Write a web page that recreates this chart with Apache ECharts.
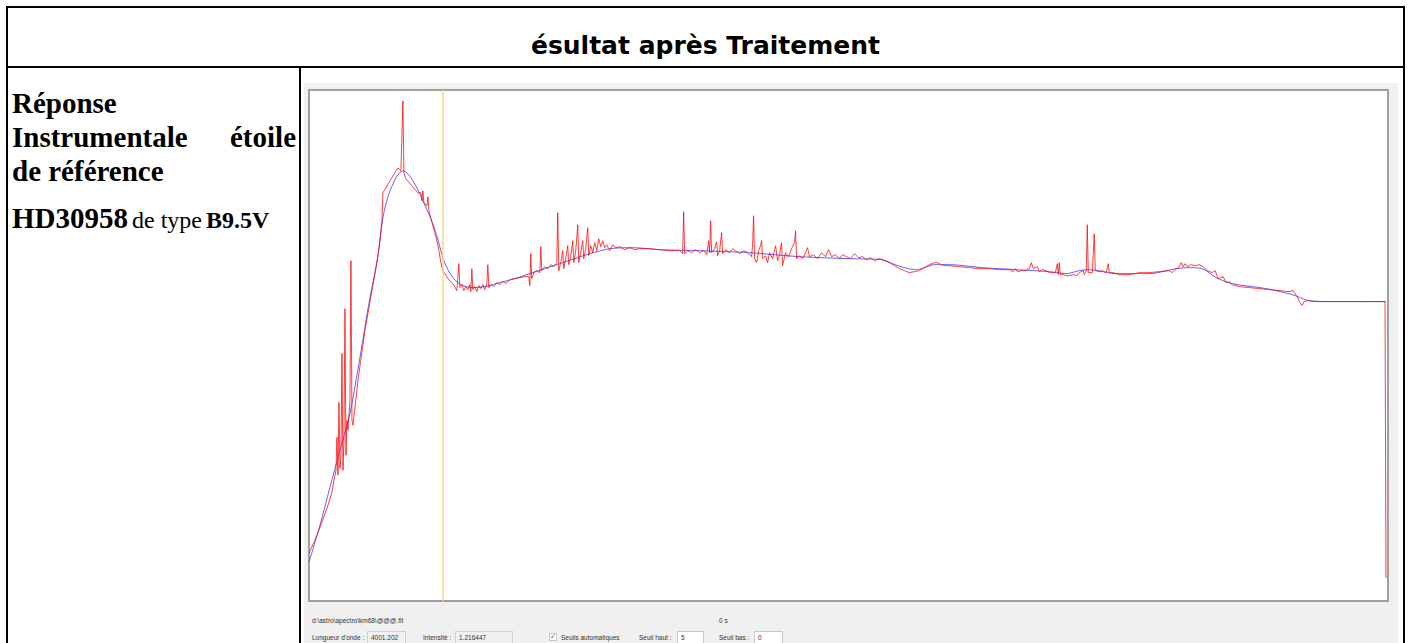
<!DOCTYPE html>
<html>
<head>
<meta charset="utf-8">
<script src="https://cdn.jsdelivr.net/npm/echarts@6/dist/echarts.min.js"></script>
<style>
  html, body { margin: 0; padding: 0; background: #fff; }
  body { width: 1411px; height: 643px; overflow: hidden; position: relative; }
  .abs { position: absolute; }
  #frame { left: 6px; top: 6px; width: 1399px; height: 660px; border: 2px solid #000; box-sizing: border-box; }
  #hline { left: 6px; top: 66px; width: 1399px; height: 2px; background: #000; }
  #vline { left: 299px; top: 66px; width: 2px; height: 600px; background: #000; }
  #title { left: 8px; top: 31px; width: 1395px; height: 30px; line-height: 30px; text-align: center;
           font-family: "Comic Sans MS", "DejaVu Sans", sans-serif; font-weight: bold; font-size: 25px; color: #000; }
  #desc { left: 12px; top: 86px; width: 284px; font-family: "Liberation Serif", "Times New Roman", serif; color: #000; }
  #desc .l { font-size: 29px; font-weight: bold; line-height: 34px; height: 34px; white-space: nowrap; }
  #desc .j { display: flex; justify-content: space-between; }
  #desc .hd { margin-top: 14px; white-space: nowrap; }
  #desc .hd b.big { font-size: 29px; }
  #desc .hd span { font-size: 24px; }
  #desc .hd b.sm { font-size: 24px; }
  #shot { left: 304px; top: 83px; width: 1094px; height: 560px; background: #f0f0f0; }
  .st { position: absolute; font-family: "Liberation Sans", sans-serif; font-size: 6.5px; color: #333; white-space: nowrap; }
  .box { position: absolute; height: 14px; box-sizing: border-box; font-family: "Liberation Sans", sans-serif;
         font-size: 6.5px; color: #333; line-height: 12px; padding-left: 3px; }
  .ro { background: #f0f0f0; border: 1px solid #d0d0d0; }
  .wr { background: #fff; border: 1px solid #c8c8c8; }
  #chart { left: 0; top: 0; width: 1411px; height: 643px; }
</style>
</head>
<body>
<div id="frame" class="abs"></div>
<div id="hline" class="abs"></div>
<div id="vline" class="abs"></div>
<div id="title" class="abs">ésultat après Traitement</div>
<div id="desc" class="abs">
  <div class="l">Réponse</div>
  <div class="l j"><span>Instrumentale</span><span>étoile</span></div>
  <div class="l">de référence</div>
  <div class="hd"><b class="big">HD30958</b> <span>de type</span> <b class="sm">B9.5V</b></div>
</div>
<div id="shot" class="abs"></div>
<div class="st" style="left:312px;top:617px;">d:\astro\apectro\km68\@@@.fit</div>
<div class="st" style="left:719px;top:617px;">0 s</div>
<div class="st" style="left:312px;top:634px;">Longueur d'onde :</div>
<div class="box ro" style="left:367px;top:631px;width:39px;">4001.202</div>
<div class="st" style="left:423px;top:634px;">Intensité :</div>
<div class="box ro" style="left:455px;top:631px;width:58px;">1.216447</div>
<div class="box wr" style="left:549px;top:633px;width:8px;height:8px;padding:0;line-height:6px;font-size:7px;text-align:center;color:#4060a0;">✓</div>
<div class="st" style="left:561px;top:634px;">Seuils automatiques</div>
<div class="st" style="left:639px;top:634px;">Seuil haut :</div>
<div class="box wr" style="left:677px;top:631px;width:27px;">5</div>
<div class="st" style="left:719px;top:634px;">Seuil bas :</div>
<div class="box wr" style="left:754px;top:631px;width:29px;">0</div>
<div id="chart" class="abs"></div>
<script>
// wavelength (Å), intensity (relative)
const blueFit = [
  [3600, 0.078], [3633, 0.152], [3663, 0.228], [3693, 0.302], [3723, 0.376], [3753, 0.488],
  [3783, 0.608], [3804, 0.678], [3822, 0.768], [3837, 0.810], [3852, 0.836], [3867, 0.854],
  [3882, 0.862], [3897, 0.856], [3912, 0.842], [3927, 0.824], [3942, 0.802], [3957, 0.780],
  [3972, 0.756], [3987, 0.724], [4002, 0.688], [4017, 0.664], [4032, 0.648], [4047, 0.638],
  [4062, 0.632], [4092, 0.628], [4128, 0.630], [4173, 0.638], [4218, 0.646], [4263, 0.656],
  [4308, 0.666], [4353, 0.676], [4398, 0.686], [4443, 0.696], [4503, 0.706], [4572, 0.708],
  [4653, 0.704], [4773, 0.702], [4923, 0.698], [5073, 0.690], [5223, 0.686], [5322, 0.684],
  [5352, 0.676], [5388, 0.668], [5424, 0.664], [5448, 0.668], [5478, 0.674], [5523, 0.674],
  [5622, 0.668], [5724, 0.664], [5823, 0.660], [5874, 0.656], [5913, 0.662], [5943, 0.664],
  [6024, 0.656], [6123, 0.656], [6204, 0.666], [6243, 0.668], [6282, 0.666], [6324, 0.648],
  [6372, 0.636], [6474, 0.626], [6552, 0.614], [6603, 0.602], [6672, 0.600], [6834, 0.600]
];

const redSpectrum = [
  [3600, 0.096], [3618, 0.122], [3639, 0.158], [3657, 0.192], [3669, 0.218], [3675, 0.242],
  [3681, 0.262], [3684, 0.328], [3687, 0.252], [3690, 0.398], [3693, 0.266], [3696, 0.292],
  [3699, 0.496], [3702, 0.262], [3705, 0.322], [3708, 0.586], [3711, 0.292], [3714, 0.362],
  [3717, 0.342], [3723, 0.402], [3726, 0.682], [3729, 0.362], [3732, 0.352], [3747, 0.442],
  [3768, 0.542], [3789, 0.622], [3807, 0.692], [3813, 0.722], [3819, 0.762], [3822, 0.818],
  [3843, 0.842], [3867, 0.868], [3876, 0.862], [3879, 0.858], [3882, 1.002], [3885, 0.858],
  [3891, 0.846], [3909, 0.832], [3927, 0.818], [3936, 0.818], [3939, 0.802], [3942, 0.822],
  [3945, 0.798], [3954, 0.792], [3957, 0.810], [3960, 0.782], [3966, 0.766], [3972, 0.752],
  [3978, 0.738], [3984, 0.722], [3990, 0.702], [3996, 0.678], [4002, 0.662], [4017, 0.646],
  [4032, 0.636], [4044, 0.622], [4047, 0.626], [4050, 0.676], [4053, 0.628], [4059, 0.634],
  [4065, 0.622], [4071, 0.630], [4077, 0.624], [4083, 0.634], [4086, 0.620], [4089, 0.666],
  [4092, 0.624], [4098, 0.630], [4104, 0.620], [4110, 0.632], [4116, 0.626], [4122, 0.634],
  [4128, 0.624], [4134, 0.636], [4137, 0.674], [4140, 0.628], [4146, 0.634], [4155, 0.630],
  [4164, 0.638], [4173, 0.634], [4182, 0.640], [4191, 0.636], [4203, 0.644], [4218, 0.646],
  [4233, 0.648], [4248, 0.650], [4260, 0.650], [4263, 0.632], [4266, 0.696], [4269, 0.646],
  [4275, 0.658], [4284, 0.662], [4293, 0.658], [4296, 0.710], [4299, 0.662], [4308, 0.670],
  [4317, 0.666], [4326, 0.674], [4335, 0.670], [4344, 0.678], [4347, 0.778], [4350, 0.662],
  [4356, 0.678], [4362, 0.702], [4365, 0.666], [4371, 0.686], [4377, 0.712], [4380, 0.674],
  [4386, 0.690], [4392, 0.722], [4395, 0.678], [4401, 0.702], [4407, 0.754], [4410, 0.678],
  [4416, 0.698], [4422, 0.722], [4425, 0.686], [4431, 0.706], [4437, 0.748], [4440, 0.692],
  [4446, 0.712], [4452, 0.698], [4458, 0.718], [4464, 0.702], [4470, 0.726], [4476, 0.710],
  [4482, 0.722], [4488, 0.708], [4494, 0.714], [4503, 0.702], [4512, 0.714], [4521, 0.708],
  [4533, 0.710], [4548, 0.704], [4563, 0.708], [4578, 0.704], [4593, 0.706], [4623, 0.706],
  [4653, 0.704], [4683, 0.702], [4713, 0.702], [4722, 0.696], [4725, 0.780], [4728, 0.696],
  [4737, 0.702], [4749, 0.698], [4761, 0.704], [4773, 0.698], [4785, 0.702], [4794, 0.694],
  [4800, 0.722], [4803, 0.698], [4806, 0.762], [4809, 0.698], [4818, 0.706], [4824, 0.720],
  [4827, 0.692], [4833, 0.702], [4839, 0.738], [4842, 0.696], [4851, 0.704], [4863, 0.698],
  [4872, 0.706], [4881, 0.702], [4893, 0.696], [4905, 0.702], [4917, 0.698], [4929, 0.690],
  [4932, 0.714], [4935, 0.772], [4938, 0.686], [4944, 0.678], [4950, 0.702], [4956, 0.712],
  [4959, 0.722], [4962, 0.686], [4971, 0.692], [4977, 0.678], [4983, 0.698], [4992, 0.686],
  [5001, 0.712], [5007, 0.682], [5013, 0.694], [5019, 0.718], [5022, 0.672], [5031, 0.698],
  [5040, 0.690], [5049, 0.706], [5058, 0.718], [5061, 0.742], [5064, 0.686], [5073, 0.692],
  [5082, 0.686], [5091, 0.698], [5097, 0.708], [5103, 0.690], [5115, 0.694], [5127, 0.686],
  [5139, 0.698], [5151, 0.690], [5160, 0.704], [5169, 0.690], [5181, 0.694], [5193, 0.686],
  [5202, 0.694], [5214, 0.690], [5226, 0.686], [5238, 0.696], [5250, 0.688], [5262, 0.690],
  [5274, 0.684], [5286, 0.688], [5298, 0.682], [5313, 0.686], [5328, 0.682], [5343, 0.678],
  [5358, 0.672], [5373, 0.666], [5388, 0.662], [5403, 0.658], [5418, 0.660], [5433, 0.662],
  [5448, 0.668], [5463, 0.674], [5478, 0.678], [5487, 0.678], [5499, 0.674], [5511, 0.672],
  [5523, 0.672], [5553, 0.670], [5583, 0.668], [5613, 0.666], [5643, 0.666], [5673, 0.664],
  [5703, 0.664], [5709, 0.666], [5715, 0.660], [5721, 0.666], [5727, 0.660], [5733, 0.664],
  [5739, 0.662], [5745, 0.666], [5751, 0.662], [5757, 0.664], [5763, 0.666], [5769, 0.678],
  [5772, 0.682], [5775, 0.666], [5781, 0.662], [5787, 0.670], [5793, 0.660], [5802, 0.664],
  [5814, 0.662], [5823, 0.658], [5832, 0.658], [5841, 0.658], [5847, 0.676], [5850, 0.654],
  [5853, 0.678], [5856, 0.654], [5865, 0.654], [5874, 0.652], [5883, 0.652], [5895, 0.654],
  [5907, 0.652], [5913, 0.658], [5919, 0.660], [5925, 0.662], [5928, 0.654], [5934, 0.662],
  [5937, 0.754], [5940, 0.658], [5946, 0.662], [5952, 0.658], [5958, 0.736], [5961, 0.662],
  [5967, 0.666], [5973, 0.660], [5982, 0.662], [5988, 0.666], [5994, 0.658], [6000, 0.676],
  [6003, 0.658], [6009, 0.662], [6015, 0.658], [6021, 0.654], [6033, 0.654], [6063, 0.654],
  [6093, 0.658], [6123, 0.658], [6153, 0.660], [6183, 0.662], [6192, 0.658], [6201, 0.664],
  [6207, 0.662], [6213, 0.670], [6219, 0.678], [6225, 0.670], [6231, 0.676], [6237, 0.670],
  [6249, 0.674], [6261, 0.672], [6273, 0.674], [6285, 0.670], [6297, 0.662], [6303, 0.666],
  [6312, 0.658], [6321, 0.662], [6330, 0.646], [6336, 0.642], [6345, 0.650], [6354, 0.638],
  [6363, 0.640], [6372, 0.634], [6393, 0.630], [6423, 0.628], [6453, 0.626], [6483, 0.624],
  [6513, 0.622], [6543, 0.620], [6555, 0.622], [6561, 0.616], [6567, 0.610], [6576, 0.598],
  [6582, 0.592], [6588, 0.600], [6594, 0.596], [6600, 0.602], [6618, 0.600], [6663, 0.600],
  [6723, 0.600], [6783, 0.600], [6831, 0.600], [6834, 0.046]
];

const cursorWave = 4001.202;

const chart = echarts.init(document.getElementById("chart"), null, { renderer: "canvas" });
chart.setOption({
  backgroundColor: "transparent",
  animation: false,
  grid: {
    left: 309, top: 90, width: 1079, height: 511,
    show: true, backgroundColor: "#fff", borderColor: "#a0a0a0", borderWidth: 2
  },
  xAxis: {
    type: "value", min: 3600, max: 6840,
    axisLine: { show: false }, axisTick: { show: false }, axisLabel: { show: false }, splitLine: { show: false }
  },
  yAxis: {
    type: "value", min: 0, max: 1.024,
    axisLine: { show: false }, axisTick: { show: false }, axisLabel: { show: false }, splitLine: { show: false }
  },
  series: [
    {
      name: "fit",
      type: "line",
      data: blueFit,
      showSymbol: false,
      smooth: 0.3,
      lineStyle: { color: "rgba(60,60,255,0.8)", width: 1 },
      markLine: {
        silent: true,
        symbol: "none",
        label: { show: false },
        lineStyle: { color: "#f9d48c", width: 1.5, type: "solid" },
        data: [{ xAxis: cursorWave }]
      }
    },
    {
      name: "spectre",
      type: "line",
      data: redSpectrum,
      showSymbol: false,
      lineStyle: { color: "rgba(255,0,0,0.75)", width: 1 }
    }
  ]
});
</script>
</body>
</html>
